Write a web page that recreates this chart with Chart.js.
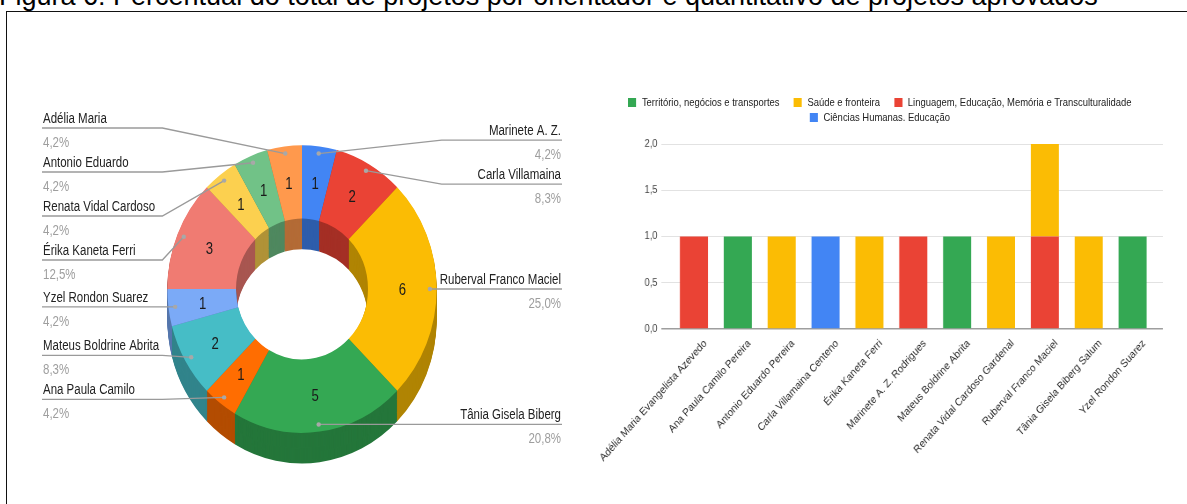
<!DOCTYPE html>
<html>
<head>
<meta charset="utf-8">
<script src="https://cdn.jsdelivr.net/npm/chart.js@4.4.1/dist/chart.umd.min.js"></script>
<style>
  html, body { margin: 0; padding: 0; background: #fff; }
  #page { position: relative; width: 1187px; height: 504px; overflow: hidden; font-family: "Liberation Sans", Arial, sans-serif; }
  #titulo { position: absolute; left: -1px; top: -17px; font-size: 27px; line-height: 27px; white-space: nowrap; color: #000; }
  #moldura { position: absolute; left: 6px; top: 11px; width: 1300px; height: 600px; border: 1.5px solid #111; }
  #pizza { position: absolute; left: 0; top: 0; }
  #barras { position: absolute; left: 590px; top: 0; transform: scaleX(0.88); transform-origin: 0 0; }
  #legenda { position: absolute; left: 580px; top: 95px; width: 600px; display: flex; flex-wrap: wrap; justify-content: center; column-gap: 16px;
             font-size: 10.5px; line-height: 15px; color: #222; transform: scaleX(0.9); transform-origin: 50% 0; }
  #legenda span.item { display: inline-flex; align-items: center; white-space: nowrap; }
  #legenda span.box { width: 9px; height: 9px; margin-right: 6px; display: inline-block; }
</style>
</head>
<body>
<div id="page">
  <div id="titulo">Figura 6: Percentual do total de projetos por orientador e quantitativo de projetos aprovados</div>
  <div id="moldura"></div>
  <canvas id="pizza" width="600" height="504"></canvas>
  <canvas id="barras" width="678" height="504"></canvas>
  <div id="legenda"></div>
</div>
<script>
// pizza: total de projetos por orientador (sentido horario a partir do topo)
const orientadores = ['Marinete A. Z.', 'Carla Villamaina', 'Ruberval Franco Maciel', 'Tânia Gisela Biberg',
  'Ana Paula Camilo', 'Mateus Boldrine Abrita', 'Yzel Rondon Suarez', 'Érika Kaneta Ferri',
  'Renata Vidal Cardoso', 'Antonio Eduardo', 'Adélia Maria'];
const projetos = [1, 2, 6, 5, 1, 2, 1, 3, 1, 1, 1];
const coresPizza = ['#4285F4', '#EA4335', '#FBBC04', '#34A853', '#FF6D01', '#46BDC6',
  '#7BAAF7', '#F07B72', '#FCD04F', '#71C287', '#FF994D'];

// barras: projetos aprovados por linha de pesquisa
const nomesCompletos = ['Adélia Maria Evangelista Azevedo', 'Ana Paula Camilo Pereira', 'Antonio Eduardo Pereira',
  'Carla Villamaina Centeno', 'Érika Kaneta Ferri', 'Marinete A. Z. Rodrigues', 'Mateus Boldrine Abrita',
  'Renata Vidal Cardoso Gardenal', 'Ruberval Franco Maciel', 'Tânia Gisela Biberg Salum', 'Yzel Rondon Suarez'];
const seriesNomes = ['Território, negócios e transportes', 'Saúde e fronteira',
  'Linguagem, Educação, Memória e Transculturalidade', 'Ciências Humanas. Educação'];
const seriesCores = ['#34A853', '#FBBC04', '#EA4335', '#4285F4'];
const territorio = [0, 1, 0, 0, 0, 0, 1, 0, 0, 0, 1];
const saude      = [0, 0, 1, 0, 1, 0, 0, 1, 1, 1, 0];
const linguagem  = [1, 0, 0, 0, 0, 1, 0, 0, 1, 0, 0];
const ciencias   = [0, 0, 0, 1, 0, 0, 0, 0, 0, 0, 0];
const ordemPilha = [0, 2, 1, 3]; // de baixo para cima
const yTickLabels = ['0,0', '0,5', '1,0', '1,5', '2,0'];

Chart.defaults.font.family = '"Liberation Sans", Arial, sans-serif';

function escurecer(hex, f) {
  const n = parseInt(hex.slice(1), 16);
  const r = Math.round(((n >> 16) & 255) * f), g = Math.round(((n >> 8) & 255) * f), b = Math.round((n & 255) * f);
  return 'rgb(' + r + ',' + g + ',' + b + ')';
}

function texto(ctx, s, x, y, align, font, color, sx) {
  ctx.save();
  ctx.translate(x, y);
  ctx.scale(sx, 1);
  ctx.font = font;
  ctx.fillStyle = color;
  ctx.textAlign = align;
  ctx.fillText(s, 0, 0);
  ctx.restore();
}

// anel achatado + parede lateral (efeito 3d)
const profundidade = {
  id: 'profundidade',
  beforeDatasetsDraw(chart, args, o) {
    const ctx = chart.ctx;
    const arcs = chart.getDatasetMeta(0).data;
    const cx = arcs[0].x, cy = arcs[0].y;
    ctx.save();
    ctx.translate(cx, cy);
    ctx.scale(o.ex, o.ey);
    ctx.translate(-cx, -cy);
    for (let d = o.depth; d > 0; d--) {
      arcs.forEach((arc, i) => {
        const p = arc.getProps(['x', 'y', 'startAngle', 'endAngle', 'innerRadius', 'outerRadius']);
        ctx.beginPath();
        ctx.arc(p.x, p.y + d, p.outerRadius, p.startAngle, p.endAngle);
        ctx.arc(p.x, p.y + d, p.innerRadius, p.endAngle, p.startAngle, true);
        ctx.closePath();
        ctx.fillStyle = escurecer(coresPizza[i], 0.7);
        ctx.fill();
      });
    }
  },
  afterDatasetsDraw(chart) {
    chart.ctx.restore();
  }
};

function espalhar(items, gap, minY) {
  items.sort((a, b) => a.want - b.want);
  const groups = [];
  const place = g => {
    const m = g.items.reduce((s, it, k) => s + it.want - k * gap, 0) / g.items.length;
    g.top = Math.max(m, minY);
  };
  items.forEach(it => {
    groups.push({ items: [it] });
    for (;;) {
      const g = groups[groups.length - 1];
      place(g);
      const prev = groups[groups.length - 2];
      if (prev && prev.top + prev.items.length * gap > g.top) {
        prev.items = prev.items.concat(g.items);
        groups.pop();
      } else break;
    }
  });
  groups.forEach(g => g.items.forEach((it, k) => { it.y = g.top + k * gap; }));
}

const rotulosPizza = {
  id: 'rotulosPizza',
  afterDatasetsDraw(chart, args, o) {
    const ctx = chart.ctx;
    const meta = chart.getDatasetMeta(0);
    const elipse = chart.options.plugins.profundidade;
    const total = projetos.reduce((a, b) => a + b, 0);
    const esq = [], dir = [];
    const cx = meta.data[0].x, cy = meta.data[0].y;
    const Rx = meta.data[0].outerRadius * elipse.ex;
    const proj = (x, y) => ({ x: cx + (x - cx) * elipse.ex, y: cy + (y - cy) * elipse.ey });
    meta.data.forEach((arc, i) => {
      const p = arc.getProps(['x', 'y', 'startAngle', 'endAngle', 'outerRadius']);
      const mid = (p.startAngle + p.endAngle) / 2;
      const dot = proj(p.x + Math.cos(mid) * p.outerRadius * o.dotRatio, p.y + Math.sin(mid) * p.outerRadius * o.dotRatio);
      (Math.cos(mid) < 0 ? esq : dir).push({ i, dot, want: dot.y });
      const c0 = arc.getCenterPoint();
      const c = proj(c0.x, c0.y);
      texto(ctx, String(projetos[i]), c.x, c.y + 6, 'center', '16px "Liberation Sans", Arial', '#1a1a1a', o.sx);
    });
    espalhar(esq, o.gap, o.minY);
    espalhar(dir, o.gap, o.minY);
    const desenhar = (it, lado) => {
      const endX = lado < 0 ? o.leftX : o.rightX;
      const elbowX = cx + lado * (Rx + o.elbow);
      ctx.save();
      ctx.strokeStyle = '#9a9a9a';
      ctx.lineWidth = 1.3;
      ctx.beginPath();
      ctx.moveTo(it.dot.x, it.dot.y);
      ctx.lineTo(elbowX, it.y);
      ctx.lineTo(endX, it.y);
      ctx.stroke();
      ctx.fillStyle = '#a8a8a8';
      ctx.beginPath();
      ctx.arc(it.dot.x, it.dot.y, 2.2, 0, Math.PI * 2);
      ctx.fill();
      ctx.restore();
      const align = lado < 0 ? 'left' : 'right';
      const tx = lado < 0 ? endX + 1 : endX - 1;
      const pct = (projetos[it.i] / total * 100).toFixed(1).replace('.', ',') + '%';
      texto(ctx, orientadores[it.i], tx, it.y - 5, align, '14px "Liberation Sans", Arial', '#222', o.sx);
      texto(ctx, pct, tx, it.y + 19, align, '14px "Liberation Sans", Arial', '#9e9e9e', o.sx);
    };
    esq.forEach(it => desenhar(it, -1));
    dir.forEach(it => desenhar(it, 1));
  }
};

new Chart(document.getElementById('pizza'), {
  type: 'doughnut',
  data: {
    labels: orientadores,
    datasets: [{ data: projetos, backgroundColor: coresPizza, borderWidth: 0, clip: false }]
  },
  options: {
    responsive: false,
    animation: false,
    cutout: '49%',
    layout: { padding: { left: 161, right: 157, top: 148, bottom: 74 } },
    plugins: {
      legend: { display: false },
      tooltip: { enabled: false },
      profundidade: { depth: 30, ex: 0.955, ey: 1.02 },
      rotulosPizza: { dotRatio: 0.95, gap: 44, minY: 128, leftX: 42, rightX: 562, elbow: 5, sx: 0.82 }
    }
  },
  plugins: [profundidade, rotulosPizza]
});

const seriesValores = [territorio, saude, linguagem, ciencias];

new Chart(document.getElementById('barras'), {
  type: 'bar',
  data: {
    datasets: ordemPilha.map(k => ({
      label: seriesNomes[k],
      data: seriesValores[k].map((v, i) => ({ x: i, y: v })),
      backgroundColor: seriesCores[k],
      borderWidth: 0,
      categoryPercentage: 0.8,
      barPercentage: 0.8
    }))
  },
  options: {
    responsive: false,
    animation: false,
    layout: { padding: { left: 0, right: 27, top: 144, bottom: 0 } },
    plugins: { legend: { display: false }, tooltip: { enabled: false } },
    scales: {
      x: {
        type: 'linear',
        stacked: true,
        offset: false,
        min: -0.75,
        max: 10.69,
        grid: { display: false, offset: false },
        border: { display: false },
        ticks: {
          stepSize: 1, includeBounds: false, autoSkip: false, maxTicksLimit: 30,
          minRotation: 45, maxRotation: 45, labelOffset: 13, padding: 0,
          color: '#2a2a2a', font: { size: 11 },
          callback: v => nomesCompletos[v] ?? ''
        },
        afterFit: a => { a.height = 175; a.paddingLeft = 0; a.paddingRight = 0; }
      },
      y: {
        stacked: true,
        min: 0,
        max: 2,
        border: { display: false },
        grid: {
          drawTicks: false,
          color: c => c.tick.value === 0 ? '#9e9e9e' : '#e2e2e2',
          lineWidth: c => c.tick.value === 0 ? 1.6 : 1
        },
        ticks: { stepSize: 0.5, padding: 4, color: '#444', font: { size: 10.5 }, callback: (v, i) => yTickLabels[i] },
        afterFit: a => { a.width = 80.7; }
      }
    }
  }
});

// legenda em html
const legenda = document.getElementById('legenda');
seriesNomes.forEach((nome, k) => {
  const item = document.createElement('span');
  item.className = 'item';
  const box = document.createElement('span');
  box.className = 'box';
  box.style.background = seriesCores[k];
  item.appendChild(box);
  item.appendChild(document.createTextNode(nome));
  legenda.appendChild(item);
});
</script>
</body>
</html>
